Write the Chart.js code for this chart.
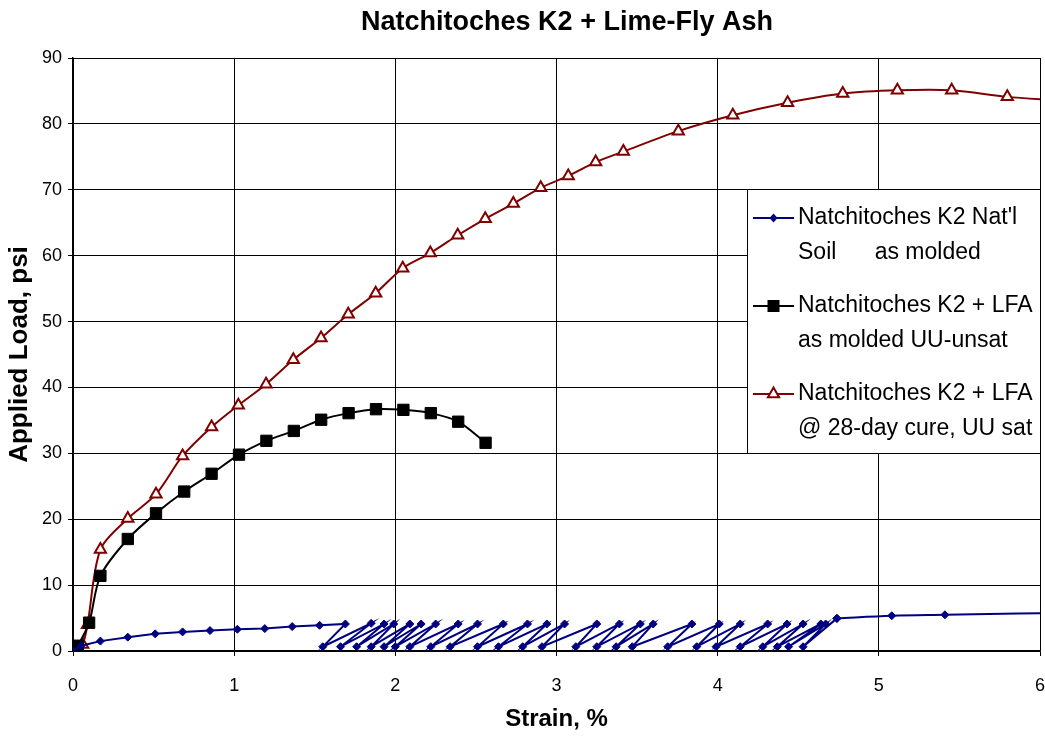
<!DOCTYPE html>
<html>
<head>
<meta charset="utf-8">
<title>Natchitoches K2 + Lime-Fly Ash</title>
<script src="https://cdn.jsdelivr.net/npm/chart.js@4.4.0/dist/chart.umd.min.js"></script>
<style>
  html, body { margin: 0; padding: 0; background: #fff; }
  #chart { display: block; }
</style>
</head>
<body>
<canvas id="chart" width="1045" height="740"></canvas>
<script>
// Natural soil, as molded (load cell readings zig-zag between ~0.65 and ~4.1 psi)
const natStrain = [
  0, 0.05, 0.17, 0.34, 0.51, 0.68, 0.85, 1.02, 1.19, 1.36, 1.53, 1.69,
  1.55, 1.85, 1.66, 1.93, 1.76, 1.99, 1.85, 2.09, 1.93, 2.16, 2.00, 2.25,
  2.09, 2.39, 2.22, 2.51, 2.34, 2.67, 2.51, 2.82, 2.64, 2.94, 2.79, 3.05,
  2.91, 3.25, 3.12, 3.39, 3.25, 3.52, 3.37, 3.60, 3.47, 3.84, 3.69, 4.01,
  3.87, 4.14, 3.99, 4.31, 4.14, 4.43, 4.28, 4.53, 4.37, 4.64, 4.44, 4.67,
  4.53, 4.74
];
const natLoad = [
  0, 0.8, 1.5, 2.1, 2.6, 2.9, 3.1, 3.3, 3.4, 3.7, 3.9, 4.1,
  0.65, 4.2, 0.65, 4.1, 0.65, 4.1, 0.65, 4.1, 0.65, 4.1, 0.65, 4.1,
  0.65, 4.1, 0.65, 4.1, 0.65, 4.1, 0.65, 4.1, 0.65, 4.1, 0.65, 4.1,
  0.65, 4.1, 0.65, 4.1, 0.65, 4.1, 0.65, 4.1, 0.65, 4.1, 0.65, 4.1,
  0.65, 4.1, 0.65, 4.1, 0.65, 4.1, 0.65, 4.1, 0.65, 4.1, 0.65, 4.1,
  0.65, 4.95
];
// tail of the natural soil curve after the readings settle
const natTailStrain = [4.74, 5.08, 5.41, 6.1];
const natTailLoad = [4.95, 5.35, 5.5, 5.78];

// K2 + LFA as molded, UU-unsat
const lfaStrain = [0, 0.03, 0.1, 0.17, 0.34, 0.515, 0.69, 0.86, 1.03, 1.2, 1.37, 1.54,
  1.71, 1.88, 2.05, 2.22, 2.39, 2.56];
const lfaLoad = [0, 0.8, 4.3, 11.4, 17.0, 20.9, 24.2, 26.9, 29.8, 31.9, 33.4, 35.1,
  36.1, 36.7, 36.6, 36.1, 34.8, 31.6];

// K2 + LFA after 28-day cure, UU sat
const curedStrain = [0, 0.02, 0.06, 0.09, 0.17, 0.34, 0.515, 0.68, 0.86, 1.026, 1.198, 1.367,
  1.539, 1.708, 1.878, 2.046, 2.217, 2.387, 2.558, 2.732, 2.902, 3.073, 3.243, 3.415,
  3.756, 4.094, 4.434, 4.776, 5.115, 5.452, 5.797, 6.14];
const curedLoad = [0, 0.3, 1.0, 4.0, 15.4, 20.1, 23.8, 29.6, 34.0, 37.3, 40.5, 44.2,
  47.5, 51.1, 54.3, 58.1, 60.4, 63.1, 65.6, 67.9, 70.3, 72.1, 74.2, 75.8,
  78.9, 81.3, 83.2, 84.6, 85.1, 85.1, 84.1, 83.5];

const xTicks = [0, 1, 2, 3, 4, 5, 6];
const yTicks = [0, 10, 20, 30, 40, 50, 60, 70, 80, 90];

const legendLines = [
  ["Natchitoches K2 Nat'l", "Soil      as molded"],
  ["Natchitoches K2 + LFA", "as molded UU-unsat"],
  ["Natchitoches K2 + LFA", "@ 28-day cure, UU sat"]
];

const FONT = "'Liberation Sans', Arial, Helvetica, sans-serif";
const NAVY = '#000080';
const MAROON = '#800000';

function pairs(xs, ys) {
  return xs.map((x, i) => ({ x: x, y: ys[i] }));
}

// small marker shapes used by the legend box
function drawMarker(ctx, style, x, y, color) {
  ctx.save();
  ctx.beginPath();
  if (style === 'diamond') {
    ctx.moveTo(x, y - 4.5); ctx.lineTo(x + 4, y); ctx.lineTo(x, y + 4.5); ctx.lineTo(x - 4, y);
    ctx.closePath();
    ctx.fillStyle = color; ctx.fill();
  } else if (style === 'square') {
    ctx.rect(x - 6, y - 6, 12, 12);
    ctx.fillStyle = color; ctx.fill();
  } else {
    ctx.moveTo(x, y - 6.5); ctx.lineTo(x + 5.6, y + 3.3); ctx.lineTo(x - 5.6, y + 3.3);
    ctx.closePath();
    ctx.fillStyle = '#fff'; ctx.fill();
    ctx.lineWidth = 2; ctx.strokeStyle = color; ctx.stroke();
  }
  ctx.restore();
}

const chartTitle = {
  id: 'chartTitle',
  afterDraw(chart) {
    const ctx = chart.ctx;
    ctx.save();
    ctx.font = 'bold 27px ' + FONT;
    ctx.fillStyle = '#000';
    ctx.textAlign = 'center';
    ctx.textBaseline = 'middle';
    ctx.fillText('Natchitoches K2 + Lime-Fly Ash', 567, 23);
    ctx.restore();
  }
};

const boxLegend = {
  id: 'boxLegend',
  afterDraw(chart) {
    const ctx = chart.ctx;
    const styles = [['diamond', NAVY], ['square', '#000'], ['triangle', MAROON]];
    const left = 747, top = 189, width = chart.chartArea.right - 747 + 1, height = 265;
    ctx.save();
    ctx.fillStyle = '#fff';
    ctx.fillRect(left, top, width, height);
    ctx.strokeStyle = '#000';
    ctx.lineWidth = 1;
    ctx.strokeRect(left + 0.5, top + 0.5, width - 1, height - 1);
    ctx.font = '23px ' + FONT;
    ctx.textBaseline = 'middle';
    ctx.fillStyle = '#000';
    legendLines.forEach((lines, i) => {
      const y = 218 + i * 88;
      ctx.strokeStyle = styles[i][1];
      ctx.lineWidth = 2;
      ctx.beginPath();
      ctx.moveTo(753, y);
      ctx.lineTo(794, y);
      ctx.stroke();
      drawMarker(ctx, styles[i][0], 773.5, y, styles[i][1]);
      ctx.fillStyle = '#000';
      lines.forEach((t, j) => ctx.fillText(t, 798, y + j * 35));
    });
    ctx.restore();
  }
};

const ctx = document.getElementById('chart').getContext('2d');
new Chart(ctx, {
  type: 'scatter',
  data: {
    datasets: [{
      label: legendLines[0].join(' '),
      data: pairs(natStrain, natLoad),
      showLine: true,
      borderColor: NAVY,
      backgroundColor: NAVY,
      borderWidth: 2,
      pointStyle: 'rectRot',
      pointRadius: 4,
      pointBorderWidth: 1,
      tension: 0
    }, {
      label: 'tail',
      data: pairs(natTailStrain, natTailLoad),
      showLine: true,
      borderColor: NAVY,
      backgroundColor: NAVY,
      borderWidth: 2,
      pointStyle: 'rectRot',
      pointRadius: 4,
      pointBorderWidth: 1,
      cubicInterpolationMode: 'monotone'
    }, {
      label: legendLines[1].join(' '),
      data: pairs(lfaStrain, lfaLoad),
      showLine: true,
      borderColor: '#000',
      backgroundColor: '#000',
      borderWidth: 2,
      pointStyle: 'rect',
      pointRadius: 8,
      pointBorderWidth: 1,
      tension: 0.3
    }, {
      label: legendLines[2].join(' '),
      data: pairs(curedStrain, curedLoad),
      showLine: true,
      borderColor: MAROON,
      backgroundColor: '#fff',
      borderWidth: 2,
      pointStyle: 'triangle',
      pointRadius: 6.5,
      pointBorderWidth: 2,
      tension: 0.3
    }]
  },
  options: {
    responsive: false,
    animation: false,
    events: [],
    layout: { autoPadding: false, padding: { top: 58, right: 5, left: 0, bottom: 0 } },
    plugins: {
      legend: { display: false },
      tooltip: { enabled: false },
      title: { display: false }
    },
    scales: {
      x: {
        type: 'linear',
        min: 0,
        max: 6,
        afterBuildTicks: axis => { axis.ticks = xTicks.map(v => ({ value: v })); },
        afterFit: axis => {
          axis.height = 89;
          axis.paddingLeft = 0;
          axis.paddingRight = 0;
        },
        ticks: { color: '#000', font: { family: FONT, size: 18 }, padding: 19 },
        grid: { color: '#000', lineWidth: 1, tickLength: 5, tickColor: '#000' },
        border: { color: '#000', width: 1.5 },
        title: {
          display: true,
          text: 'Strain, %',
          color: '#000',
          font: { family: FONT, size: 24, weight: 'bold' },
          padding: { top: 0, bottom: 6 }
        }
      },
      y: {
        type: 'linear',
        min: 0,
        max: 90,
        afterBuildTicks: axis => { axis.ticks = yTicks.map(v => ({ value: v })); },
        afterFit: axis => {
          axis.width = 73;
          axis.paddingTop = 0;
          axis.paddingBottom = 0;
        },
        ticks: { color: '#000', font: { family: FONT, size: 18 }, padding: 6 },
        grid: { color: '#000', lineWidth: 1, tickLength: 5, tickColor: '#000' },
        border: { color: '#000', width: 1.5 },
        title: {
          display: true,
          text: 'Applied Load, psi',
          color: '#000',
          font: { family: FONT, size: 26, weight: 'bold' },
          padding: { top: 4, bottom: 0 }
        }
      }
    }
  },
  plugins: [chartTitle, boxLegend]
});
</script>
</body>
</html>
